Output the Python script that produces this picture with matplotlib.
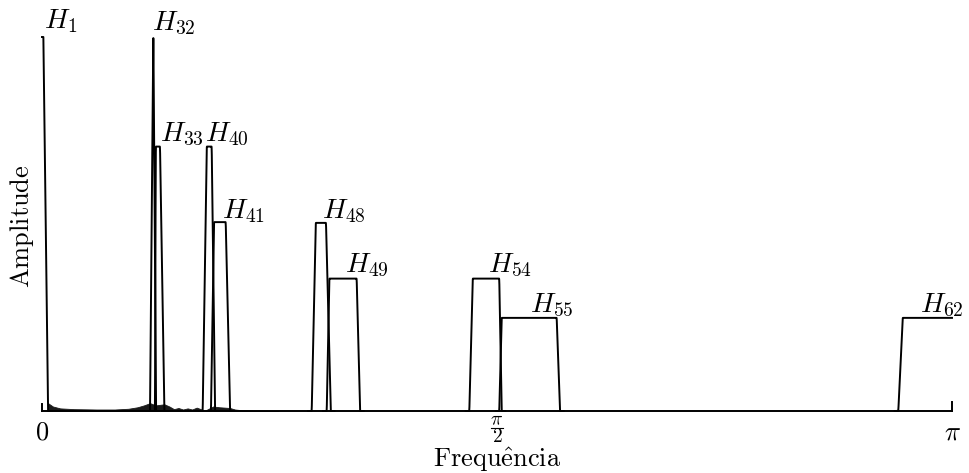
import numpy as np
import matplotlib
matplotlib.use("Agg")
import matplotlib.pyplot as plt
from matplotlib.lines import Line2D

plt.rcParams['mathtext.fontset'] = 'cm'
plt.rcParams['font.family'] = ['DejaVu Serif']

# ---------------- data (frequencies as fractions of pi) ----------------
names    = ["1", "32", "33", "40", "41", "48", "49", "54", "55", "62"]
base_lo  = [0.0,    0.1187, 0.1242, 0.1766, 0.1857, 0.2964, 0.3129, 0.4696, 0.5025, 0.9410]
top_lo   = [0.0,    0.1222, 0.1250, 0.1810, 0.1890, 0.3008, 0.3157, 0.4733, 0.5051, 0.9458]
top_hi   = [0.0015, 0.1224, 0.1297, 0.1865, 0.2019, 0.3121, 0.3458, 0.5025, 0.5656, 1.0]
base_hi  = [0.0066, 0.1253, 0.1344, 0.1901, 0.2066, 0.3173, 0.3495, 0.5051, 0.5692, 1.0]
heights  = [1.0,    0.997,  0.707,  0.707,  0.505,  0.503,  0.354,  0.354,  0.249,  0.249]

# stopband leakage floor (fraction of pi, amplitude)
stop_w = [0.0066, 0.012, 0.02, 0.035, 0.06, 0.08, 0.095, 0.105, 0.112, 0.1187,
          0.125, 0.1344, 0.14, 0.145, 0.15, 0.155, 0.16, 0.165, 0.17, 0.1766,
          0.1800, 0.188, 0.195, 0.2066, 0.212, 0.22, 0.24, 0.26]
stop_h = [0.021, 0.012, 0.007, 0.005, 0.004, 0.004, 0.006, 0.010, 0.015, 0.021,
          0.015, 0.018, 0.012, 0.005, 0.008, 0.004, 0.007, 0.004, 0.009, 0.003,
          0.002, 0.012, 0.010, 0.008, 0.004, 0.002, 0.001, 0.0]

xtick_vals = [0.0, 0.5, 1.0]
xtick_num  = [r'$0$', r'$\pi$', r'$\pi$']
xtick_den  = [None, r'$2$', None]

# ---------------- layout ----------------
label_off = [(2, 9), (-1, 8), (4, 5), (-2, 5), (8, 4), (6, 5), (16, 6), (15, 6), (28, 6), (17, 6)]  # pixels

W, H = 969, 473
fig = plt.figure(figsize=(W / 100, H / 100), dpi=100)
x0, x1, yb, yt = 42, 952, 411, 37
ax = fig.add_axes([x0 / W, (H - yb) / H, (x1 - x0) / W, (yb - yt) / H])

lw = 1.4
w = np.linspace(0, 1, 20001)
k = np.ones(9) / 9.0  # slight rounding of corners

ax.fill_between(np.array(stop_w) * np.pi, 0, stop_h, color='#1a1a1a', lw=0.6, zorder=2)

for i, n in enumerate(names):
    xp = [base_lo[i], top_lo[i], top_hi[i], base_hi[i]]
    fp = [0, heights[i], heights[i], 0]
    if base_hi[i] >= 1.0:
        xp = [base_lo[i], top_lo[i], 1.0]
        fp = [0, heights[i], heights[i]]
    m = (w >= base_lo[i] - 0.004) & (w <= min(base_hi[i] + 0.004, 1.0))
    yy = np.interp(w[m], xp, fp, left=0, right=0)
    if i not in (0, 1):
        ys = np.convolve(yy, k, mode='same')
        ys[:4] = yy[:4]
        ys[-4:] = yy[-4:]
        yy = ys
    ax.plot(w[m] * np.pi, yy, color='black', lw=lw, clip_on=False, zorder=3,
            solid_joinstyle='round')
    dx, dy = label_off[i]
    ax.annotate(r'$H_{%s}$' % n, xy=(top_lo[i] * np.pi, heights[i]),
                xytext=(dx * 0.72, dy * 0.72), textcoords='offset points',
                ha='left', va='baseline', fontsize=20, clip_on=False)

ax.set_xlim(0, np.pi)
ax.set_ylim(0, 1.0)
ax.spines['top'].set_visible(False)
for s in ['bottom', 'left', 'right']:
    ax.spines[s].set_linewidth(lw)
ax.spines['left'].set_bounds(0, 0.02)
ax.spines['right'].set_bounds(0, 0.025)
ax.set_yticks([])
ax.set_xticks([])

tr = ax.get_xaxis_transform()
def fy(px):
    return (yb - px) / (yb - yt)

for v, num, den in zip(xtick_vals, xtick_num, xtick_den):
    if den is None:
        ax.text(v * np.pi, fy(432), num, transform=tr, ha='center', va='center',
                fontsize=19, clip_on=False)
    else:
        ax.text(v * np.pi, fy(420), num, transform=tr, ha='center', va='center',
                fontsize=14, clip_on=False)
        ax.text(v * np.pi, fy(437), den, transform=tr, ha='center', va='center',
                fontsize=14, clip_on=False)
        xc = x0 + v * (x1 - x0)
        fig.add_artist(Line2D([(xc - 6) / W, (xc + 6) / W],
                              [1 - 428 / H, 1 - 428 / H], color='black', lw=0.8))

fig.text(22 / W, 1 - 226 / H, r'$\mathrm{Amplitude}$', rotation=90,
         ha='center', va='center', fontsize=19)
fig.text(497 / W, 1 - 467 / H, r'$\mathrm{Frequ\hat{e}ncia}$',
         ha='center', va='baseline', fontsize=19)

fig.savefig('out.png', dpi=100, facecolor='white')
